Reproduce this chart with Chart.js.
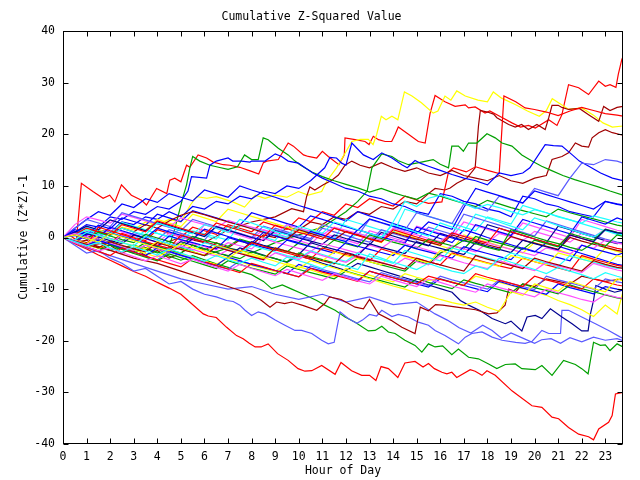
<!DOCTYPE html>
<html><head><meta charset="utf-8">
<script src="https://cdn.jsdelivr.net/npm/chart.js@4.4.0/dist/chart.umd.min.js"></script>
<style>html,body{margin:0;padding:0;background:#fff}canvas{display:block}</style>
</head><body>
<canvas id="c" width="640" height="480"></canvas>
<script>
const TITLE = 'Cumulative Z-Squared Value';
const X_TITLE = 'Hour of Day';
const Y_TITLE = 'Cumulative (Z*Z)-1';
const X_TICKS = [0,1,2,3,4,5,6,7,8,9,10,11,12,13,14,15,16,17,18,19,20,21,22,23];
const Y_TICKS = [-40,-30,-20,-10,0,10,20,30,40];
const X_MAX = 23.75;
const HALF_HOURS = [0,0.5,1,1.5,2,2.5,3,3.5,4,4.5,5,5.5,6,6.5,7,7.5,8,8.5,9,9.5,10,10.5,11,11.5,
  12,12.5,13,13.5,14,14.5,15,15.5,16,16.5,17,17.5,18,18.5,19,19.5,20,20.5,21,21.5,22,22.5,23,23.5,23.75];

// ---- traced series: [hour, value] ----
const redTop = [[0,0],[0.3,0.4],[0.57,-0.5],[0.78,10.5],[1.27,8.9],[1.7,7.6],[1.98,8.2],[2.2,6.9],[2.48,10.2],[2.9,8.2],[3.33,7.2],[3.54,6.3],[3.97,9.5],[4.4,8.5],[4.53,11.1],[4.74,11.5],[5.0,10.8],[5.24,14],[5.38,13.6],[5.73,16],[6.09,15.4],[6.37,14.6],[6.8,14.1],[7.08,14],[7.5,13.6],[8.0,12.8],[8.3,12.3],[8.5,14.5],[8.64,14.8],[9.13,15.1],[9.55,18.3],[9.77,17.7],[10.2,16],[10.4,15.7],[10.76,15.4],[11.0,16.7],[11.25,15.7],[11.7,14.1],[11.93,16],[11.96,19.3],[12.39,18.95],[12.81,18.6],[12.98,18],[13.16,19.6],[13.38,18.95],[13.66,18.6],[13.94,18.6],[14.08,19.9],[14.22,21.4],[14.65,20],[15.07,18.6],[15.36,18.3],[15.57,24.1],[15.78,27.5],[16.2,26.3],[16.63,25.4],[17.06,25.7],[17.2,25.1],[17.48,25.3],[17.9,24.1],[18.1,24.5],[18.6,23.3],[19.04,22.2],[19.4,21.4],[19.74,21.7],[20.03,21.2],[20.6,22.8],[20.95,21.7],[21.16,23.8],[21.44,29.6],[21.87,29],[22.29,27.7],[22.72,30.3],[23.0,29.3],[23.2,29.6],[23.45,29.1],[23.55,31.6],[23.7,34.5],[23.75,35]];
const redHigh = [[0,0],[0.5,-0.8],[1,0.5],[1.5,-0.3],[2,-1],[2.5,0.8],[3,0.1],[3.5,-0.6],[4,1.5],[4.5,0.8],[5,0.1],[5.5,2],[6,1.3],[6.5,0.6],[7,2.5],[7.5,1.8],[8,1.1],[8.5,3],[9,2.3],[9.5,1.6],[10,3.8],[10.5,3.1],[11,5],[11.5,4.3],[12,6.5],[12.5,5.8],[13,7.5],[13.5,6.8],[14,6.1],[14.5,8],[15,7.3],[15.5,6.6],[16.07,6.9],[16.35,12.7],[16.56,13.5],[17.1,12.7],[17.5,13.7],[18,13],[18.5,12.4],[18.7,27.4],[19.2,26.3],[19.6,25.1],[20,24.8],[20.5,24.3],[21,23.6],[21.5,24.5],[22,25.2],[22.5,24.6],[23,24],[23.5,23.7],[23.75,23.5]];
const yellowPeak = [[0,0],[0.5,-0.5],[1,1.5],[1.5,1],[2,0.5],[2.5,2],[3,1.5],[3.5,3],[4,2.5],[4.5,3.5],[5,3],[5.4,6.3],[5.67,7.9],[6.1,7.6],[6.5,7.9],[7.2,6.9],[7.7,5.9],[8.15,8.2],[8.57,7.6],[9.0,8.2],[9.5,7.8],[9.98,8.9],[10.4,8.2],[10.97,8.9],[11.2,11],[11.6,13.5],[12.25,18.6],[12.6,19],[12.95,19],[13.15,18],[13.3,19.9],[13.5,23.5],[13.7,22.8],[13.95,23.5],[14.2,22.8],[14.48,28.2],[14.8,27.4],[15.2,26.1],[15.7,24.1],[15.9,24.5],[16.2,27.4],[16.45,26.6],[16.7,28.4],[17.06,27.4],[17.6,26.6],[18.0,26.3],[18.25,28.2],[18.6,27],[19.2,25.7],[19.7,24.5],[20.2,23.5],[20.5,24.6],[20.75,26.9],[21.45,24.8],[22.0,25.1],[22.5,23.7],[22.9,22.2],[23.3,21.4],[23.75,21.6]];
const darkRedHigh = [[0,0],[0.5,-1],[1,-0.5],[1.5,-2],[2,-1.5],[2.5,-3],[3,-2],[3.5,-3.5],[4,-2.5],[4.5,-4],[5,-3],[5.5,-1.5],[6,-2.5],[6.5,-1],[7,-2],[7.5,-0.5],[8,-1.5],[8.5,0.5],[9,0],[9.5,2],[10,1.5],[10.5,3],[11,2.5],[11.5,4],[12,3.5],[12.5,5],[13,4.5],[13.5,6],[14,5.5],[14.5,7],[15,6.5],[15.5,8.5],[15.78,9.5],[16.2,9.2],[16.42,9.6],[16.7,10.5],[17.13,11.5],[17.48,13.5],[17.62,21.6],[17.7,24.6],[18.0,24.3],[18.26,23.9],[18.4,23.2],[18.9,21.9],[19.18,21.4],[19.45,21.9],[19.74,20.9],[20.1,21.9],[20.45,20.9],[20.6,23.2],[20.74,25.6],[21.0,25.6],[21.16,25.2],[21.44,24.8],[21.9,25],[22.29,23.8],[22.72,22.5],[22.93,25.4],[23.2,24.6],[23.5,25.2],[23.75,25.4]];
const darkRedMid = [[0,0],[1,-1.5],[2,-1],[3,-2.5],[4,-1.5],[5,0],[6,-1],[7,1.5],[8,3],[9,4],[9.7,5.6],[10.2,5],[10.33,7.9],[10.47,9.8],[10.68,9.2],[11.04,10.2],[11.4,11.1],[11.68,12.1],[11.96,14],[12.25,14.8],[12.6,14],[13,13.5],[13.5,14.5],[14,13.5],[14.5,12.8],[15,13.5],[15.5,12.5],[16,12],[16.5,13],[17,12],[17.5,11.5],[18,11],[18.5,12],[19,11],[19.5,10.5],[20,11.5],[20.5,12],[20.74,15.1],[21.16,15.7],[21.44,16.4],[21.73,18.3],[22.0,17.7],[22.29,17.5],[22.44,19.3],[22.72,20.3],[23.0,20.9],[23.3,20.3],[23.75,19.8]];
const greenPeak = [[0,0],[0.5,-0.8],[1,-1.5],[1.5,-0.5],[2,-1.3],[2.5,-2],[3,-2.8],[3.5,-1.5],[4,-2.2],[4.4,-3],[4.7,1],[4.9,4.5],[5.1,8],[5.24,10.2],[5.38,13.5],[5.5,15.7],[5.8,14.8],[6.23,14],[6.6,13.6],[7.0,13.2],[7.4,13.7],[7.7,16],[8.0,15.1],[8.28,15.1],[8.49,19.3],[8.7,18.95],[9.13,17.3],[9.55,16],[9.84,14.8],[10.05,14.1],[10.55,12.7],[11,11.8],[11.5,11],[12,10.3],[12.5,9.6],[13,8.8],[13.5,9.5],[14,8.7],[14.5,8],[15,7.4],[15.5,8.6],[16,8],[16.5,7.3],[17,6.6],[17.5,6],[18,7.2],[18.5,6.5],[19,5.8],[19.5,5.2],[20,4.6],[20.5,4],[21,5.5],[21.5,4.8],[22,4.2],[22.5,3.6],[23,3],[23.5,2.4],[23.75,2.2]];
const greenHigh = [[0,0],[1,-1.5],[2,-2.5],[3,-1.5],[4,-3],[5,-2],[6,-3.5],[7,-2],[8,-3],[9,-1],[10,0.5],[11,2],[11.5,3.5],[12,5],[12.5,7],[12.9,9],[13.1,13.5],[13.52,16.2],[13.95,15.7],[14.2,14.9],[14.65,14.1],[15.1,14.5],[15.7,15.1],[16.0,14.2],[16.35,13.5],[16.49,17.7],[16.77,17.7],[16.98,16.7],[17.2,18.3],[17.55,18.3],[17.98,20.1],[18.33,19.3],[18.62,18.3],[19.04,17.7],[19.46,16],[19.89,14.8],[20.3,13.8],[20.7,13],[21.2,12],[21.7,11.2],[22.2,10.5],[22.7,9.8],[23.2,9],[23.75,8.2]];
const blueHigh = [[0,0],[0.5,1],[1,2.5],[1.5,2],[2,4],[2.5,3.5],[3,5],[3.5,4.5],[4,6],[4.5,5.5],[5,7],[5.3,9],[5.45,11.8],[6.09,11.5],[6.23,14],[6.5,14.8],[7.0,15.4],[7.2,14.8],[7.57,14.8],[7.93,14.6],[8.0,14.8],[8.57,14.8],[9.0,16.2],[9.27,15.7],[9.55,14.8],[9.98,14.4],[10.27,13.5],[10.6,12.5],[11,11.5],[11.5,10.5],[12,9.5],[12.5,9],[13,8],[13.5,7.5],[14,6.5],[14.5,6],[15,5],[15.5,4.5],[16,8.5],[16.5,8],[17,7],[17.5,6.5],[18,5.5],[18.5,5],[19,4],[19.5,8],[20,7.5],[20.5,6.5],[21,6],[21.5,5],[22,4.5],[22.5,4],[23,7],[23.5,6.5],[23.75,6.3]];
const blueUpper = [[0,0],[0.5,-1],[1,0.5],[1.5,1.5],[2,1],[2.5,3],[3,2.5],[3.5,4],[4,3.5],[4.5,5],[5,4],[5.5,6],[6,5.5],[6.5,7],[7,6.5],[7.5,8],[8,7.5],[8.5,9],[9,8.5],[9.5,10],[10,9.5],[10.5,11],[11.1,13.5],[11.32,15.5],[11.6,15.4],[11.82,14.4],[12.0,14.0],[12.25,18.3],[12.74,16],[13.16,15.1],[13.52,16.4],[13.95,15.4],[14.37,14.1],[14.6,13.5],[14.93,14.9],[15.2,14.3],[15.5,13.8],[16,13],[16.5,12.2],[17,11.5],[17.5,11],[18,10.2],[18.5,12.5],[19,12],[19.5,12.5],[19.8,13.5],[20.45,18],[20.8,17.8],[21.16,17.7],[21.6,16],[21.9,14.8],[22.3,13.8],[22.8,12.5],[23.3,11.5],[23.75,11]];
const redLow = [[0,0],[0.5,-1.2],[1,-2.2],[1.5,-3.4],[2,-4.4],[2.5,-5.5],[3,-6.6],[3.5,-7.5],[4,-8.7],[4.5,-9.8],[5,-11],[5.3,-12.2],[5.95,-14.8],[6.16,-15.2],[6.5,-15.5],[6.94,-17.4],[7.36,-19],[7.64,-19.6],[7.9,-20.5],[8.15,-21.2],[8.4,-21.2],[8.7,-20.6],[9.1,-22.5],[9.55,-23.8],[9.97,-25.4],[10.26,-25.9],[10.55,-25.8],[10.97,-24.8],[11.54,-26.5],[11.79,-24.2],[12.24,-25.8],[12.67,-26.7],[13.0,-26.7],[13.27,-27.7],[13.49,-25],[13.8,-25.4],[14.2,-27.1],[14.5,-24.3],[14.93,-24],[15.27,-25.1],[15.5,-24.4],[15.75,-25.4],[16.07,-26.1],[16.28,-26.4],[16.49,-26.1],[16.7,-27.1],[17.27,-25.6],[17.48,-25.9],[17.77,-26.7],[17.98,-25.8],[18.33,-26.7],[19.04,-29.7],[19.89,-32.6],[20.31,-32.9],[20.74,-34.8],[21.02,-35.1],[21.44,-36.8],[21.87,-38.1],[22.29,-38.6],[22.5,-39.2],[22.72,-37.1],[23.14,-35.8],[23.29,-34.5],[23.43,-30.3],[23.64,-30.1],[23.75,-30]];
const lightBlueLow = [[0,0],[0.5,-1.5],[1,-3],[1.5,-2.5],[2,-4],[2.5,-5],[3,-6.5],[3.5,-6],[4,-7.5],[4.5,-9],[5,-8.5],[5.5,-10],[6,-11],[6.5,-11.5],[6.94,-12.2],[7.22,-12.4],[7.5,-13.1],[7.72,-14.1],[8.0,-15.1],[8.28,-14.4],[8.57,-14.8],[9.0,-16],[9.41,-17],[9.84,-18],[10.12,-18],[10.55,-18.6],[10.97,-19.9],[11.25,-20.6],[11.5,-20.3],[11.75,-14.4],[12.1,-15.7],[12.46,-16.6],[12.7,-16],[13.0,-14.9],[13.3,-15.2],[13.52,-14.1],[13.95,-15.3],[14.22,-14.9],[14.65,-15.4],[15.07,-16.4],[15.5,-17],[15.78,-18],[16.2,-19],[16.77,-20.6],[17.06,-19.3],[17.34,-18.6],[17.77,-18.3],[18.2,-19.3],[18.62,-19.9],[19.2,-20.3],[19.6,-20.5],[19.9,-20.1],[20.31,-18],[20.6,-18.6],[21.1,-18.6],[21.16,-14.1],[21.44,-14.1],[22.0,-15.4],[22.58,-16.7],[23.14,-18],[23.64,-19.3],[23.75,-19.5]];
const lightBlueLow2 = [[0,0],[1,-2],[2,-3.5],[3,-5],[4,-6.5],[5,-8],[6,-9],[7,-10],[8,-9.5],[9,-11],[10,-12],[11,-11],[12,-12.5],[13,-11.5],[14,-13],[15,-12.5],[15.78,-14.8],[16.3,-16],[16.8,-17.5],[17.3,-18.5],[17.8,-17],[18.2,-18],[18.6,-19.5],[19,-18.5],[19.5,-19.5],[20,-20.5],[20.3,-19.8],[20.7,-19.6],[21.1,-20.5],[21.5,-19.4],[22,-20.2],[22.5,-19.3],[23,-19.9],[23.5,-19.6],[23.75,-20]];
const greenLow = [[0,0],[0.5,-0.7],[1,-1.5],[1.5,-0.6],[2,-1.4],[2.5,-2.2],[3,-3],[3.5,-2],[4,-2.8],[4.5,-3.6],[5,-4.4],[5.5,-3.5],[6,-4.3],[6.5,-5.1],[7,-5.8],[7.5,-6.5],[8,-7.2],[8.5,-8.5],[8.85,-9.9],[9.3,-9.2],[9.7,-10],[10.2,-11],[10.76,-12.2],[11.1,-13.1],[11.54,-14.1],[11.96,-15.4],[12.39,-16.4],[12.95,-18.1],[13.24,-18],[13.52,-17.2],[13.8,-18.3],[14.08,-18.6],[14.5,-19.9],[14.93,-20.9],[15.22,-22.2],[15.5,-20.6],[15.78,-21.2],[16.1,-21],[16.49,-22.7],[16.77,-21.6],[17.2,-23.2],[17.62,-23.5],[18.05,-24.5],[18.4,-25.4],[18.76,-24.6],[19.18,-24.5],[19.46,-25.4],[20.03,-25.6],[20.31,-24.8],[20.74,-26.7],[21.23,-23.8],[21.73,-24.6],[22.0,-25.4],[22.27,-26.4],[22.5,-20.3],[22.79,-20.9],[23.0,-20.8],[23.2,-21.9],[23.5,-20.6],[23.75,-21.2]];
const navyLow = [[0,0],[0.5,0.8],[1,0.1],[1.5,-0.6],[2,-1.3],[2.5,0.4],[3,-0.3],[3.5,-1],[4,-1.7],[4.5,-2.4],[5,-0.8],[5.5,-1.5],[6,-2.2],[6.5,-2.9],[7,-3.6],[7.5,-2],[8,-2.7],[8.5,-3.4],[9,-4.1],[9.5,-4.8],[10,-3.5],[10.5,-4.2],[11,-5],[11.5,-5.7],[12,-6.4],[12.5,-5],[13,-5.7],[13.5,-6.4],[14,-7.1],[14.5,-7.8],[15,-8.5],[15.5,-9.2],[16,-9.9],[16.5,-10.6],[16.85,-12.2],[17.2,-13.1],[17.7,-14.2],[18.2,-15.7],[18.76,-16.7],[19.0,-16.2],[19.46,-18.1],[19.68,-15.4],[20.03,-15.1],[20.31,-15.7],[20.67,-13.8],[21.16,-15.4],[21.59,-16.7],[22.0,-18.1],[22.27,-18.1],[22.37,-14.8],[22.5,-12.2],[22.6,-9.3],[23,-10],[23.4,-10.6],[23.75,-10.2]];
const darkRedLow = [[0,0],[1,-1],[2,-2.5],[3,-4],[4,-5],[5,-6.5],[6,-8],[7,-9.5],[8,-11],[8.42,-12.2],[8.78,-13.5],[9.06,-12.5],[9.4,-12.8],[9.7,-12.5],[10.2,-13.2],[10.76,-14.1],[11.1,-12.8],[11.3,-11.5],[11.8,-12],[12.39,-13.5],[12.74,-13.8],[13.0,-12],[13.38,-14.8],[13.9,-16],[14.37,-17.4],[14.93,-18.6],[15.15,-13.5],[15.5,-14.2],[15.8,-13],[16.1,-13.1],[16.7,-13.5],[17.5,-14],[18.05,-14.8],[18.4,-14.6],[18.75,-13.1],[18.9,-10],[19.2,-10.5],[19.5,-9],[20,-9.5],[20.5,-8],[21,-8.5],[21.5,-9],[22,-7.5],[22.5,-8],[23,-8.5],[23.75,-8]];

// ---- dense bundle, values at HALF_HOURS ----
const cyan1 = [0,0.6,-0.2,-0.8,0.9,0.3,-0.4,1.4, 0.8,0.2,-0.5,1.3,0.7,0.1,-0.5,2.4, 1.8,1.2,0.6,0.0,1.6,1.0,0.4,-0.2, -0.8,0.8,0.2,-0.4,3.0,7.0,6.0,7.6, 8.2,7.4,6.6,5.6,6.4,5.8,5.0,4.4, 5.4,4.8,4.0,3.4,2.8,4.2,3.6,3.0, 2.8];
const cyan2 = [0,-0.8,-1.6,-1.0,-2.0,-2.8,-1.8,-2.6, -3.4,-2.2,-3.0,-3.8,-4.6,-3.5,-4.3,-5.0, -4.0,-4.8,-5.5,-3.8,-4.5,-5.2,-6.0,-4.8, -5.5,-6.2,-3.2,-4.0,-4.8,-5.5,-6.2,-5.0, -5.8,-6.5,-7.0,-5.5,-6.2,-4.0,-4.8,-5.5, -6.2,-7.0,-5.8,-6.5,-7.2,-8.0,-6.8,-7.5, -7.8];
const cyan3 = [0,0.4,1.5,0.8,0.2,1.8,1.1,0.5, 2.8,2.1,1.4,0.7,2.5,1.8,1.0,3.5, 2.8,2.0,1.2,0.5,2.2,1.5,0.8,3.0, 2.3,1.5,0.8,0.1,2.5,1.8,1.0,0.3, 2.8,2.0,1.2,4.5,3.8,3.0,2.2,1.5, 3.8,3.1,2.3,1.6,0.8,0.1,1.5,0.8, 0.5];
const cyan4 = [0,-0.5,1.0,0.4,-0.3,-1.0,-1.6,0.2, -0.5,-1.2,-1.8,-2.5,-1.0,-1.7,-2.4,-3.0, -1.5,-2.2,-2.8,-3.5,-4.0,-2.6,-3.3,-4.0, -4.6,-3.0,-3.7,-4.3,-5.0,-2.5,-3.2,-3.9, -4.5,-2.0,-2.7,-3.4,-4.0,-4.6,-3.0,-3.7, -4.3,-5.0,-5.6,-3.5,-4.2,-4.8,-5.4,-6.0, -5.8];
const cyan5 = [0,0.8,2.0,1.3,0.6,2.9,2.2,1.5, 0.8,0.1,1.8,1.1,0.4,-0.3,2.2,1.5, 0.8,0.1,-0.6,2.5,1.8,1.1,0.4,-0.3, 3.5,2.8,2.1,1.4,0.7,5.5,4.8,4.1, 3.4,2.7,2.0,1.3,4.0,3.3,2.6,6.2, 5.5,4.8,4.1,3.4,2.7,2.0,1.3,0.6, 0.4];
const magenta1 = [0,2.5,4.0,3.4,2.8,4.5,3.9,3.2, 2.6,2.0,3.8,3.1,2.5,1.9,3.3,2.6, 2.0,1.4,0.8,2.5,1.8,1.2,0.5,2.0, 1.4,0.8,0.1,-0.5,1.8,1.1,0.5,-0.2, -0.8,1.0,0.3,-0.4,-1.0,0.8,0.1,-0.6, 1.2,0.5,-0.2,-0.9,0.8,0.1,1.6,1.0, 0.7];
const magenta2 = [0,-0.6,-1.3,-0.4,-1.1,-1.8,-2.5,-1.5, -2.2,-2.9,-1.6,-2.3,-3.0,-3.6,-2.4,-3.1, -3.8,-4.4,-3.0,-3.7,-4.3,-2.8,-3.5,-4.2, -4.8,-3.5,-4.2,-4.8,-5.5,-4.0,-4.7,-5.3, -3.5,-4.2,-4.9,-5.5,-6.0,-4.5,-5.2,-5.8, -6.4,-4.8,-5.5,-6.1,-6.8,-5.0,-5.7,-6.3, -6.5];
const magenta3 = [0,-1.0,-1.8,-2.6,-2.0,-2.9,-3.7,-4.5, -3.5,-4.3,-5.1,-4.2,-5.0,-5.8,-6.5,-5.2, -6.0,-6.7,-7.4,-6.2,-6.9,-7.6,-8.3,-7.0, -7.7,-8.4,-9.0,-7.5,-8.2,-8.9,-9.5,-8.0, -8.7,-9.4,-10.0,-10.6,-9.0,-9.7,-10.3,-10.9, -11.5,-10.0,-10.7,-11.3,-12.0,-12.5,-11.0,-11.6, -11.8];
const magenta4 = [0,0.8,0.1,-0.6,-1.2,0.5,-0.2,-0.9, -1.5,-2.1,-0.5,-1.2,-1.8,-2.4,-1.0,-1.6, -2.2,-0.2,-0.9,-1.5,-2.1,-2.7,-1.2,-1.8, -2.4,-3.0,-1.5,-2.1,-0.5,-1.2,-1.8,-2.5, -3.1,-1.6,-2.2,-2.8,-1.0,-1.7,-2.3,-2.9, -3.5,-2.0,-2.6,-3.2,-1.5,-2.1,-0.5,-1.1, -1.3];
const magenta5 = [0,1.2,0.5,-0.2,1.8,1.1,0.4,-0.3, -1.0,0.8,0.1,-0.6,2.5,1.8,1.1,0.4, -0.3,1.5,0.8,0.1,-0.6,-1.3,0.9,0.2, -0.5,-1.2,1.3,0.6,-0.1,-0.8,2.2,1.5, 0.8,0.1,3.0,2.3,1.6,0.9,0.2,2.8, 2.1,1.4,0.7,0.0,3.5,2.8,2.1,1.4, 1.2];
const yellow2 = [0,-0.5,-1.2,0.4,-0.3,-1.0,-1.6,-2.2, -0.8,-1.5,-2.2,-2.8,-3.4,-1.5,-2.2,-2.9, -3.5,-4.1,-2.0,-2.7,-3.3,-3.9,-4.5,-2.8, -3.5,-4.1,-4.7,-5.3,-3.0,-3.7,-4.3,-4.9, -2.5,-3.2,-3.8,-4.4,-5.0,-5.6,-3.5,-4.1, -4.7,-5.3,-3.0,-3.6,-4.2,-4.8,-5.4,-3.5, -3.8];
const yellow3 = [0,-0.7,-1.4,-2.1,-1.0,-1.7,-2.4,-3.1, -3.8,-2.5,-3.2,-3.9,-4.6,-5.2,-4.0,-4.7, -5.4,-6.0,-6.6,-5.0,-5.7,-6.3,-7.0,-7.6, -6.0,-6.7,-7.3,-8.0,-8.6,-7.0,-7.7,-8.3, -8.0,-8.6,-9.2,-7.5,-8.1,-8.7,-9.3,-9.9, -10.5,-11.2,-12.2,-13.0,-14.0,-15.3,-13.1,-14.8, -10.5];
const yellow4 = [0,0.5,-0.2,-0.9,0.8,0.1,-0.6,-1.3, -2.0,-2.6,-1.2,-1.9,-2.6,-3.3,-4.0,-2.5, -3.2,-3.9,-4.6,-5.3,-6.0,-4.5,-5.2,-5.9, -6.6,-7.3,-8.0,-8.7,-9.4,-10.0,-10.7,-11.3, -12.0,-12.6,-13.1,-12.5,-13.5,-14.3,-10.5,-11.2, -9.0,-9.7,-10.4,-8.5,-9.2,-9.9,-10.5,-8.0, -8.4];
const yellow5 = [0,0.5,-0.2,1.5,0.8,2.8,2.1,1.4, 3.5,2.8,2.1,4.5,3.8,3.1,5.5,4.8, 4.1,3.4,2.7,2.0,1.3,0.6,2.5,1.8, 1.1,0.4,-0.3,-1.0,1.2,0.5,-0.2,-0.9, -1.6,-2.3,0.5,-0.2,-0.9,-1.6,-2.3,-3.0, -1.0,-1.7,-2.4,-3.1,-3.8,-4.5,-2.0,-2.7, -3.0];
const red4 = [0,-0.8,-1.5,2.0,1.3,0.6,-0.1,-0.8, -1.5,-2.1,0.5,-0.2,-0.9,-1.5,-2.2,-2.8, -1.0,-1.7,-2.4,-3.0,-3.6,-4.2,-2.0,-2.7, -3.3,-3.9,-4.5,-2.2,-2.9,-3.5,-4.1,-4.7, -5.3,-3.0,-3.7,-4.3,-4.9,-5.5,-6.0,-4.0, -4.7,-5.3,-5.9,-6.5,-3.5,-4.2,-4.8,-5.4, -5.6];
const red5 = [0,-1.0,-1.9,-2.7,-3.5,-2.0,-2.8,-3.6, -4.3,-5.0,-5.7,-4.0,-4.7,-5.4,-6.1,-6.8, -5.0,-5.7,-6.4,-7.0,-7.6,-6.0,-6.7,-7.3, -7.9,-8.5,-6.5,-7.2,-7.8,-8.4,-9.0,-7.5, -8.1,-8.7,-9.3,-7.0,-7.7,-8.3,-8.9,-9.5, -7.5,-8.2,-8.8,-9.4,-10.0,-8.0,-8.6,-9.2, -9.4];
const red6 = [0,0.6,1.8,1.1,0.4,2.5,1.8,1.1, 3.2,2.5,1.8,1.1,0.5,2.8,2.1,1.4, 0.7,0.1,2.4,1.7,1.0,0.4,-0.3,1.8, 1.1,0.4,-0.3,-0.9,1.5,0.8,0.1,-0.6, -1.2,0.9,0.2,-0.5,-1.1,1.8,1.1,0.4, -0.3,-1.0,-1.6,0.5,-0.2,-0.9,-1.5,-2.1, -2.3];
const green3 = [0,-0.7,-1.4,-0.3,-1.0,-1.7,-2.3,-1.0, -1.7,-2.4,-3.0,-1.5,-2.2,-2.9,-3.5,-4.1, -2.8,-3.5,-4.1,-4.7,-3.0,-3.7,-4.3,-4.9, -5.5,-4.0,-4.7,-5.3,-5.9,-6.5,-4.5,-5.2, -3.0,-2.0,-0.5,-1.2,-1.9,-2.5,1.5,0.8, 0.1,-0.6,-1.2,-1.9,-2.5,-1.0,-1.7,0.5, 0.2];
const green4 = [0,-0.9,-1.8,-2.6,-1.5,-2.3,-3.1,-3.8, -4.5,-3.2,-3.9,-4.6,-5.3,-6.0,-4.5,-5.2, -5.9,-6.5,-7.1,-5.5,-6.2,-6.8,-7.4,-8.0, -6.5,-7.2,-7.8,-8.4,-9.0,-9.6,-8.0,-8.7, -9.3,-9.9,-8.2,-8.9,-9.5,-10.1,-10.7,-9.0, -9.7,-10.3,-10.9,-9.2,-9.9,-10.5,-11.1,-11.7, -11.9];
const green5 = [0,0.5,-0.2,1.0,0.3,-0.4,-1.0,0.6, -0.1,-0.8,-1.4,0.2,-0.5,-1.1,-1.7,-0.3, -1.0,-1.6,-2.2,-2.8,-1.0,-1.7,-2.3,-0.5, -1.2,-1.8,0.5,-0.2,-0.9,-1.5,-2.1,-0.3, -1.0,-1.6,-2.2,0.2,-0.5,-1.1,-1.7,-2.3, -0.5,-1.2,-1.8,0.8,0.1,-0.5,1.6,1.0, 0.8];
const blue3 = [0,1.2,0.5,2.4,1.7,3.8,3.1,2.4, 4.5,3.8,3.1,5.2,4.5,3.8,3.1,2.4, 4.8,4.1,3.4,2.7,2.0,4.2,3.5,2.8, 2.1,1.4,3.6,2.9,2.2,1.5,0.8,3.0, 2.3,1.6,5.8,9.5,8.8,8.1,7.4,6.7, 9.0,8.3,7.6,6.9,6.2,5.5,7.0,6.4, 6.2];
const blue4 = [0,0.4,-0.3,-1.0,0.9,0.2,-0.5,-1.2, -1.8,0.3,-0.4,-1.0,-1.6,-2.2,0.0,-0.7, -1.3,-1.9,-2.5,-0.5,-1.2,-1.8,-2.4,-3.0, -1.0,-1.7,-2.3,-2.9,-3.5,-1.5,-2.2,-2.8, -3.4,-4.0,-1.8,-2.5,-3.1,-3.7,-4.3,-2.0, -2.7,-3.3,-3.9,-4.5,-1.5,-2.2,-2.8,-3.4, -3.0];
const blue5 = [0,-0.8,-1.6,-0.5,-1.3,-2.1,-2.8,-3.5, -2.0,-2.7,-3.4,-4.1,-4.8,-5.4,-3.8,-4.5, -5.2,-5.8,-6.4,-7.0,-5.2,-5.9,-6.5,-7.1, -7.7,-8.3,-6.5,-7.2,-7.8,-8.4,-9.0,-9.6, -8.0,-8.7,-9.3,-9.9,-10.5,-8.5,-9.2,-9.8, -10.4,-11.0,-9.0,-9.7,-10.3,-10.9,-9.5,-10.0, -10.2];
const blue6 = [0,1.5,0.8,0.1,2.0,1.3,0.6,-0.1, 1.8,1.1,0.4,-0.3,1.6,0.9,0.2,-0.5, -1.1,1.0,0.3,-0.4,-1.0,1.2,0.5,-0.2, -0.8,1.5,0.8,0.1,-0.5,-1.1,2.0,1.3, 0.6,-0.1,-0.7,2.5,1.8,1.1,0.4,3.5, 2.8,2.1,1.4,0.7,4.0,3.3,2.6,3.8, 3.4];
const blue7 = [0,1.8,3.5,5.0,4.3,6.5,5.8,7.5, 6.8,8.5,7.8,7.1,9.2,8.5,7.8,10.0, 9.2,8.5,7.8,7.0,6.2,5.5,4.8,4.0, 3.2,5.0,4.2,3.5,2.7,2.0,1.2,0.5, -0.2,-1.0,1.5,0.8,0.0,-0.7,-1.4,-2.1, -2.8,-1.0,-1.7,-2.4,-3.1,-3.8,-4.5,-5.2, -5.4];
const navy2 = [0,-0.6,0.8,0.1,-0.6,-1.2,0.5,-0.2, -0.9,-1.5,-2.1,-0.2,-0.9,-1.5,-2.1,-2.7, -0.8,-1.5,-2.1,-2.7,-3.3,-1.0,-1.7,-2.3, -2.9,-3.5,-1.2,-1.9,-2.5,-3.1,-0.8,-1.5, -2.1,-2.7,-3.3,-1.0,-1.7,-2.3,-2.9,-0.5, -1.2,-1.8,-2.4,0.5,-0.2,-0.8,1.5,0.9, 0.8];
const navy3 = [0,1.0,2.2,1.5,3.4,2.7,2.0,1.3, 3.0,2.3,1.6,0.9,0.2,2.1,1.4,0.7, 0.0,-0.6,1.3,0.6,-0.1,-0.7,-1.3,0.5, -0.2,-0.8,-1.4,1.0,0.3,-0.4,-1.0,-1.6, 0.8,0.1,-0.6,-1.2,2.5,1.8,1.1,0.4, -0.3,-1.0,2.2,1.5,0.8,0.1,-0.6,-1.2, -1.0];
const lightBlue3 = [0,1.8,3.5,2.8,2.1,4.8,4.1,3.4, 2.7,2.0,1.3,3.5,2.8,2.1,1.4,0.7, 0.0,2.2,1.5,0.8,0.1,-0.5,1.8,1.1, 0.4,-0.3,-0.9,1.5,0.8,0.1,-0.5,2.0, 1.3,0.6,4.5,3.8,3.1,2.4,1.7,1.0, 0.3,3.2,2.5,1.8,1.1,0.4,-0.3,-0.9, -1.1];
const lightBlue4 = [0,-0.9,-1.7,-0.5,-1.3,-2.1,-2.9,-3.6, -4.3,-2.8,-3.5,-4.2,-4.9,-5.5,-6.1,-4.5, -5.2,-5.8,-6.4,-7.0,-7.6,-5.5,-6.2,-6.8, -7.4,-8.0,-8.6,-6.8,-7.5,-8.1,-8.7,-9.3, -7.5,-8.2,-8.8,-9.4,-10.0,-8.2,-8.9,-9.5, -10.1,-7.5,-8.2,-8.8,-9.4,-10.0,-8.0,-8.6, -8.8];
const lightBlue5 = [0,-0.5,1.2,0.5,-0.2,-0.8,1.0,0.3, -0.4,1.5,0.8,0.1,-0.5,2.2,1.5,0.8, 0.1,-0.5,1.8,1.1,0.4,-0.2,2.5,1.8, 1.1,0.4,3.5,2.8,2.1,1.4,4.8,4.1, 3.4,2.7,6.5,5.8,5.1,8.0,7.3,6.6, 9.5,8.8,8.1,11.5,14.4,14.1,15.1,14.8, 14.4];
const darkRed4 = [0,-0.7,-1.3,-2.0,-0.8,-1.5,-2.2,-2.8, -1.0,-1.7,-2.3,-2.9,-3.5,-1.8,-2.5,-3.1, -3.7,-4.3,-2.0,-2.7,-3.3,-3.9,-4.5,-5.1, -3.0,-3.7,-4.3,-4.9,-5.5,-6.1,-4.0,-4.7, -5.3,-5.9,-6.5,-3.5,-4.2,-4.8,-5.4,-6.0, -4.0,-4.7,-5.3,-5.9,-6.5,-4.5,-5.2,-5.8, -6.0];
const darkRed5 = [0,0.5,-0.2,1.2,0.5,1.8,1.1,2.5, 1.8,3.2,4.3,5.0,4.4,3.7,3.0,2.4, 1.7,1.0,0.3,-0.3,1.5,0.8,0.1,-0.5, 1.2,0.5,-0.2,-0.8,1.0,0.3,-0.3,-0.9, -1.5,0.5,-0.2,-0.8,-1.4,-2.0,0.2,-0.5, -1.1,-1.7,-2.3,0.0,-0.7,-1.3,-1.9,-2.5, -2.7];

const COLORS = {red:'#ff0000', green:'#00a000', blue:'#0000ff', yellow:'#ffff00', cyan:'#20ffff',
  magenta:'#ff50ff', darkred:'#a00000', navy:'#000090', lightblue:'#5a5aff'};

const BUNDLE = [
  [cyan2,'cyan'],[magenta3,'magenta'],[yellow4,'yellow'],[red5,'red'],[green4,'green'],[blue5,'blue'],[lightBlue4,'lightblue'],
  [darkRed4,'darkred'],[magenta2,'magenta'],[cyan4,'cyan'],[yellow2,'yellow'],[red4,'red'],[green3,'green'],[blue4,'blue'],
  [navy2,'navy'],[magenta4,'magenta'],[green5,'green'],[cyan3,'cyan'],[red6,'red'],[blue6,'blue'],[darkRed5,'darkred'],
  [navy3,'navy'],[lightBlue3,'lightblue'],[magenta1,'magenta'],[cyan1,'cyan'],[blue3,'blue'],[yellow3,'yellow'],[lightBlue5,'lightblue'],
  [cyan5,'cyan'],[magenta5,'magenta'],[yellow5,'yellow'],[blue7,'blue']
];
const TRACED = [
  [darkRedLow,'darkred'],[navyLow,'navy'],[lightBlueLow2,'lightblue'],[lightBlueLow,'lightblue'],[greenLow,'green'],[redLow,'red'],
  [blueHigh,'blue'],[blueUpper,'blue'],[greenPeak,'green'],[greenHigh,'green'],[darkRedMid,'darkred'],[redHigh,'red'],
  [darkRedHigh,'darkred'],[yellowPeak,'yellow'],[redTop,'red']
];

const datasets = [];
BUNDLE.forEach(([vals, c]) => datasets.push({
  data: vals.map((v, i) => ({x: HALF_HOURS[i], y: v})), borderColor: COLORS[c]
}));
TRACED.forEach(([pts, c]) => datasets.push({
  data: pts.map(p => ({x: p[0], y: p[1]})), borderColor: COLORS[c]
}));
datasets.forEach(d => Object.assign(d, {borderWidth: 1.2, pointRadius: 0, tension: 0, fill: false}));

const FONT = {family: "'DejaVu Sans Mono', monospace", size: 11.5, lineHeight: 1.2, weight: 'normal'};

const framePlugin = {
  id: 'frame',
  afterDatasetsDraw(chart) {
    const {ctx, chartArea: a, scales: {x, y}} = chart;
    const L = Math.round(a.left) + 0.5, R = Math.round(a.right) - 0.5;
    const T = Math.round(a.top) + 0.5, B = Math.round(a.bottom) - 0.5;
    ctx.save();
    ctx.strokeStyle = '#000'; ctx.lineWidth = 1;
    ctx.strokeRect(L, T, R - L, B - T);
    ctx.beginPath();
    X_TICKS.forEach(v => {
      const px = Math.round(x.getPixelForValue(v)) + 0.5;
      ctx.moveTo(px, B); ctx.lineTo(px, B - 5);
      ctx.moveTo(px, T); ctx.lineTo(px, T + 5);
    });
    Y_TICKS.forEach(v => {
      const py = Math.round(y.getPixelForValue(v)) + 0.5;
      ctx.moveTo(L, py); ctx.lineTo(L + 5, py);
      ctx.moveTo(R, py); ctx.lineTo(R - 5, py);
    });
    ctx.stroke();
    ctx.restore();
  }
};

new Chart(document.getElementById('c'), {
  type: 'line',
  data: {datasets},
  plugins: [framePlugin],
  options: {
    responsive: false, animation: false, devicePixelRatio: 1,
    layout: {padding: {left: 0, right: 17, top: 0, bottom: 0}},
    plugins: {
      legend: {display: false}, tooltip: {enabled: false},
      title: {display: true, text: TITLE, color: '#000', font: FONT, padding: {top: 10, bottom: 7.2}}
    },
    scales: {
      x: {
        type: 'linear', min: 0, max: X_MAX,
        grid: {display: false, drawTicks: false}, border: {display: false},
        ticks: {stepSize: 1, includeBounds: false, autoSkip: false, maxRotation: 0, color: '#000', font: FONT, padding: 6},
        title: {display: true, text: X_TITLE, color: '#000', font: FONT, padding: {top: 0, bottom: 2}},
        afterFit(s) { s.height = 36; }
      },
      y: {
        min: -40, max: 40,
        grid: {display: false, drawTicks: false}, border: {display: false},
        ticks: {stepSize: 10, color: '#000', font: FONT, padding: 8},
        title: {display: true, text: Y_TITLE, color: '#000', font: FONT, padding: {top: 17, bottom: 0}},
        afterFit(s) { s.width = 63; }
      }
    }
  }
});
</script>
</body></html>
